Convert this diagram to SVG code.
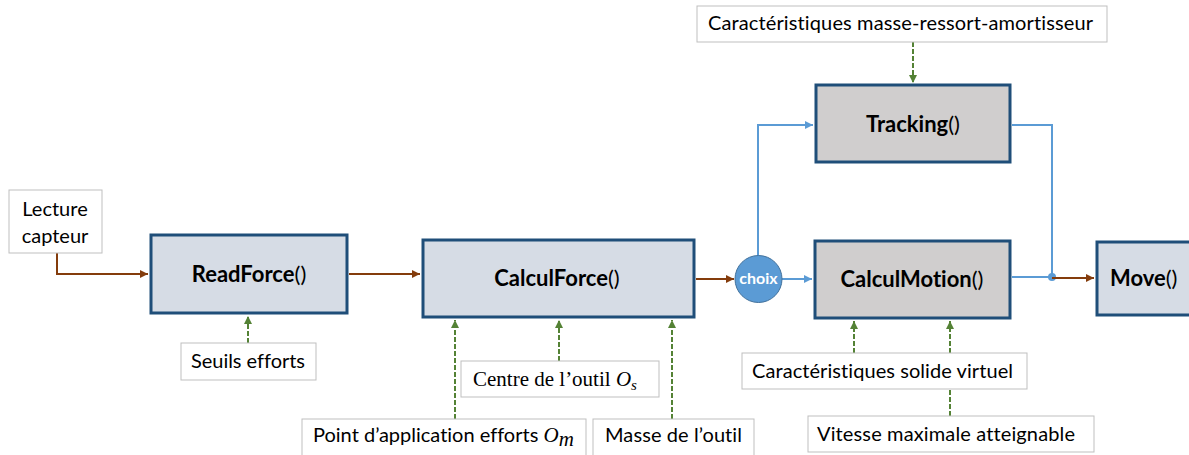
<svg xmlns="http://www.w3.org/2000/svg" width="1189" height="455" viewBox="0 0 1189 455">
<style>
text{font-variant-ligatures:none}
.lbl{fill:#fff;stroke:#BFBFBF;stroke-width:1}
.main{fill:#D6DCE5;stroke:#1F4E79;stroke-width:3}
.grey{fill:#D0CECE;stroke:#1F4E79;stroke-width:3}
.t{font-family:Lato,"Liberation Sans",sans-serif;font-size:20px;fill:#000}
.b{font-family:Lato,"Liberation Sans",sans-serif;font-size:22px;fill:#000}
.bold{font-weight:bold}
.serif{font-family:"Liberation Serif","DejaVu Serif",serif;font-size:21px}
.br{fill:none;stroke:#843C0C;stroke-width:2}
.bl{fill:none;stroke:#5B9BD5;stroke-width:2}
.gr{fill:none;stroke:#548235;stroke-width:2;stroke-dasharray:5 2}
</style>
<defs>
<marker id="ab" viewBox="0 0 10 10" refX="10" refY="5" markerWidth="9" markerHeight="8" markerUnits="userSpaceOnUse" orient="auto"><path d="M0,0L10,5L0,10z" fill="#843C0C"/></marker>
<marker id="ablue" viewBox="0 0 10 10" refX="10" refY="5" markerWidth="9" markerHeight="8" markerUnits="userSpaceOnUse" orient="auto"><path d="M0,0L10,5L0,10z" fill="#5B9BD5"/></marker>
<marker id="ag" viewBox="0 0 10 10" refX="10" refY="5" markerWidth="9" markerHeight="8" markerUnits="userSpaceOnUse" orient="auto"><path d="M0,0L10,5L0,10z" fill="#548235"/></marker>
</defs>
<rect width="1189" height="455" fill="#fff"/>

<g id="connectors">
<path class="br" d="M57,253V274H148" marker-end="url(#ab)"/>
<path class="br" d="M349,274H420" marker-end="url(#ab)"/>
<path class="br" d="M696,279H734" marker-end="url(#ab)"/>
<path class="bl" d="M782,279H812" marker-end="url(#ablue)"/>
<path class="bl" d="M758,256V125H813" marker-end="url(#ablue)"/>
<path class="bl" d="M1012,125H1052V277"/>
<path class="bl" d="M1012,277H1052"/>
<circle cx="1052" cy="277" r="4" fill="#5B9BD5"/>
<path class="br" d="M1052,278H1094" marker-end="url(#ab)"/>
<path class="gr" d="M248,343V316" marker-end="url(#ag)"/>
<path class="gr" d="M455,419V320" marker-end="url(#ag)"/>
<path class="gr" d="M559,361V320" marker-end="url(#ag)"/>
<path class="gr" d="M672,419V320" marker-end="url(#ag)"/>
<path class="gr" d="M913,42V83" marker-end="url(#ag)"/>
<path class="gr" d="M854,353V321" marker-end="url(#ag)"/>
<path class="gr" d="M950,416V321" marker-end="url(#ag)"/>
</g>

<g id="lecture">
<rect class="lbl" x="9" y="190" width="93" height="63"/>
<text class="t" x="55" y="216" text-anchor="middle">Lecture</text>
<text class="t" x="55" y="243" text-anchor="middle">capteur</text>
</g>

<g id="readforce">
<rect class="main" x="151" y="235" width="196" height="78"/>
<text class="b" x="249" y="282" text-anchor="middle"><tspan class="bold">ReadForce</tspan>()</text>
</g>

<g id="seuils">
<rect class="lbl" x="181" y="343" width="135" height="37"/>
<text class="t" x="248" y="368" text-anchor="middle" textLength="114">Seuils efforts</text>
</g>

<g id="calculforce">
<rect class="main" x="423" y="240" width="271" height="77"/>
<text class="b" x="557" y="286" text-anchor="middle"><tspan class="bold">CalculForce</tspan>()</text>
</g>

<g id="centre">
<rect class="lbl" x="461" y="361" width="198" height="36"/>
<text class="serif" x="473" y="386">Centre de l’outil <tspan font-style="italic">O</tspan><tspan font-style="italic" font-size="15" dy="4">s</tspan></text>
</g>

<g id="point">
<rect class="lbl" x="302" y="419" width="284" height="40"/>
<text class="t" x="313" y="442">Point d’application efforts <tspan class="serif" font-style="italic">O</tspan><tspan class="serif" font-style="italic" font-size="15" dy="4">m</tspan></text>
</g>

<g id="masse">
<rect class="lbl" x="593" y="419" width="161" height="40"/>
<text class="t" x="605" y="442" textLength="137">Masse de l’outil</text>
</g>

<g id="choix">
<circle cx="758.5" cy="279" r="23.5" fill="#5B9BD5" stroke="#41719C" stroke-width="1"/>
<text x="758.5" y="284" text-anchor="middle" font-family="Lato,'Liberation Sans',sans-serif" font-size="16" font-weight="bold" fill="#fff">choix</text>
</g>

<g id="tracking">
<rect class="grey" x="816" y="85" width="194" height="77"/>
<text class="b" x="913" y="132" text-anchor="middle"><tspan class="bold">Tracking</tspan>()</text>
</g>

<g id="calculmotion">
<rect class="grey" x="815" y="241" width="195" height="77"/>
<text class="b" x="912" y="287" text-anchor="middle"><tspan class="bold">CalculMotion</tspan>()</text>
</g>

<g id="move">
<rect class="main" x="1097" y="242" width="120" height="73" stroke="#41719C"/>
<text class="b" x="1110" y="286"><tspan class="bold">Move</tspan>()</text>
</g>

<g id="masse-ressort">
<rect class="lbl" x="697" y="6" width="410" height="36"/>
<text class="t" x="708" y="30" textLength="385">Caractéristiques masse-ressort-amortisseur</text>
</g>

<g id="solide">
<rect class="lbl" x="742" y="353" width="285" height="36"/>
<text class="t" x="752" y="378" textLength="261">Caractéristiques solide virtuel</text>
</g>

<g id="vitesse">
<rect class="lbl" x="808" y="416" width="286" height="36"/>
<text class="t" x="817" y="441" textLength="258">Vitesse maximale atteignable</text>
</g>
</svg>
